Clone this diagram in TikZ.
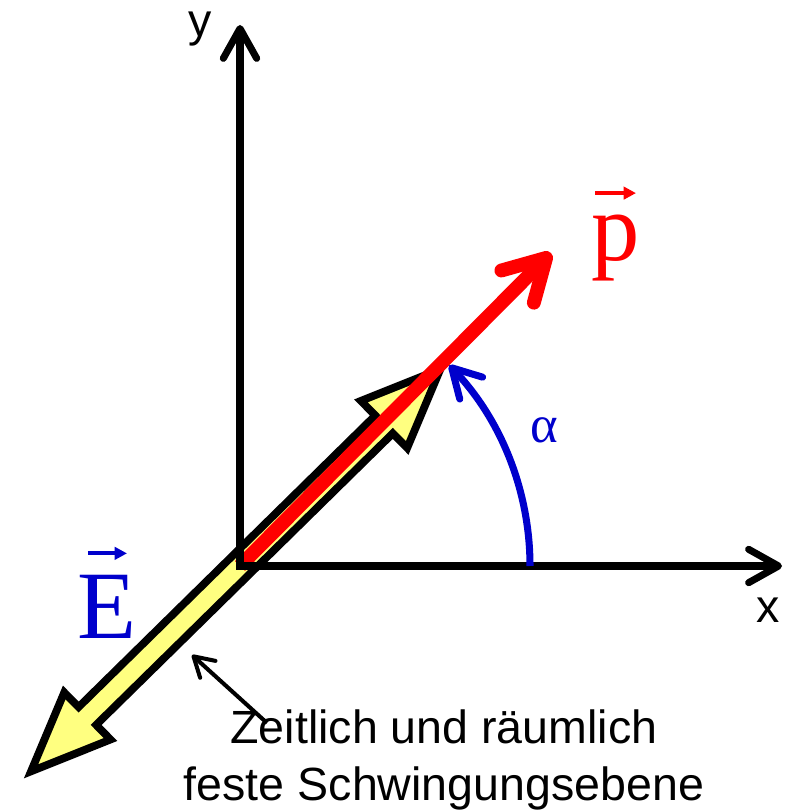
\documentclass[tikz,border=0pt]{standalone}
\usepackage{fontspec}
\setmainfont{Liberation Sans}
\newfontfamily\vecfont{Liberation Serif}
\usetikzlibrary{arrows.meta}
\definecolor{PlaneYellow}{HTML}{FFFF80}
\definecolor{DipoleRed}  {HTML}{FF0000}
\definecolor{AngleBlue}  {HTML}{0000CC}

\begin{document}
\begin{tikzpicture}[x=0.02cm, y=0.02cm,
    axis/.style={line width=4pt, line join=miter,
      {Straight Barb[length=17pt,width=19pt,round]}-{Straight Barb[length=17pt,width=19pt,round]}},
    veclabel/.style={inner sep=0pt, anchor=base, font=\vecfont\fontsize{55}{60}\selectfont},
    vecmark/.style={line width=2.2pt, -{Triangle[length=7pt,width=7pt]}},
    txt/.style={inner sep=0pt, font=\fontsize{26.5}{32}\selectfont}]
  \useasboundingbox (-240,-244) rectangle (555,566);
  % fixed plane of oscillation (double arrow)
  \begin{scope}[rotate=44.5]
    \draw[line width=4.4pt, fill=PlaneYellow, line join=miter]
      (-293,0) -- (-214,33) -- (-214,12.5) -- (202,12.5) -- (202,33) -- (281,0)
      -- (202,-33) -- (202,-12.5) -- (-214,-12.5) -- (-214,-33) -- cycle;
  \end{scope}
  % dipole moment
  \coordinate (O) at (0,0);
  \coordinate (ptip) at (311,313);
  \draw[DipoleRed, line width=7.9pt,
        -{Straight Barb[length=23pt,width=26pt,round]}] (O) -- (ptip);
  % axes
  \coordinate (xend) at (542,0);
  \coordinate (yend) at (0,541);
  \draw[axis] (xend) -- (O) -- (yend);
  \node[txt] (ylab) at (-40,537) {y};
  \node[txt] (xlab) at (528,-44) {x};
  % angle
  \draw[AngleBlue, line width=4pt,
        -{Straight Barb[length=16pt,width=18pt,round]}]
    (290,0) arc[start angle=0, end angle=43.8, radius=290];
  \node[txt, text=AngleBlue, font=\vecfont\fontsize{30}{32}\selectfont] (alpha) at (304,136) {α};
  % vector labels
  \node[veclabel, text=DipoleRed] (plab) at (376,305) {p};
  \draw[vecmark, DipoleRed] ([shift={(-21,22)}]plab.north) -- ([shift={(20,22)}]plab.north);
  \node[veclabel, text=AngleBlue] (Elab) at (-133,-72) {E};
  \draw[vecmark, AngleBlue] ([shift={(-19,21)}]Elab.north) -- ([shift={(20,21)}]Elab.north);
  % caption with pointer
  \coordinate (hint) at (27,-157);
  \coordinate (shaft) at (-48,-89);
  \draw[line width=2.3pt, -{Straight Barb[length=11pt,width=13pt,round]}] (hint) -- (shaft);
  \node[txt, anchor=base, align=center] (plane) at (204,-234)
    {Zeitlich und räumlich\\feste Schwingungsebene};
\end{tikzpicture}
\end{document}
